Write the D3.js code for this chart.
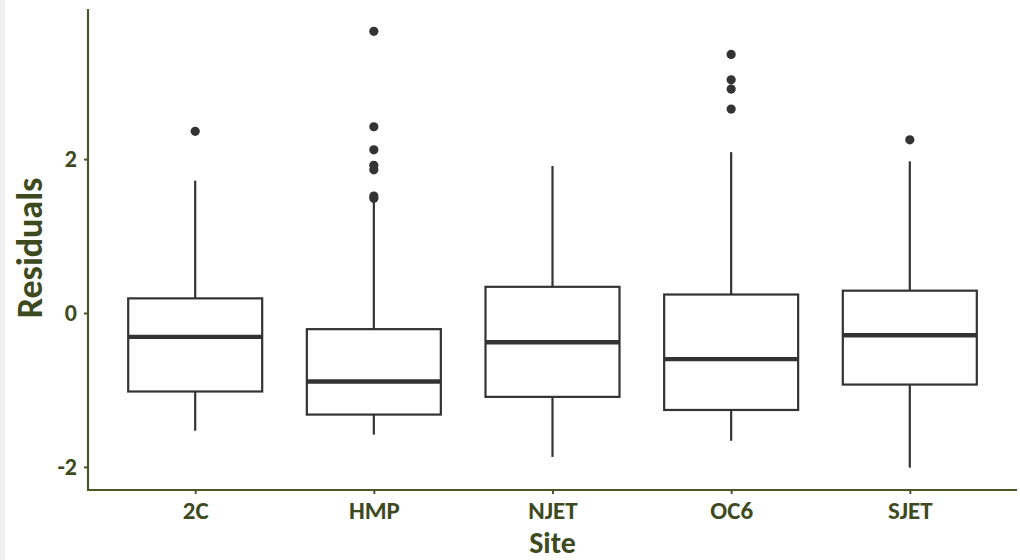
<!DOCTYPE html>
<html><head><meta charset="utf-8">
<script src="https://cdn.jsdelivr.net/npm/d3@7"></script>
<style>
body{margin:0;background:#fff;}
svg{display:block;}
text{font-family:"Carlito","Lato",sans-serif;font-weight:bold;}
</style></head><body>
<svg id="chart" width="1020" height="560"></svg>
<script>
const sites = ["2C","HMP","NJET","OC6","SJET"];
const whiskerLow  = [-1.53,-1.58,-1.87,-1.66,-2.01];
const q1          = [-1.02,-1.32,-1.09,-1.26,-0.93];
const medians     = [-0.31,-0.89,-0.38,-0.60,-0.29];
const q3          = [ 0.19,-0.21, 0.34, 0.24, 0.29];
const whiskerHigh = [ 1.72, 1.45, 1.91, 2.09, 1.97];
const outliers = [
  [2.36],
  [3.66,2.42,2.12,1.92,1.86,1.52,1.49],
  [],
  [3.36,3.03,2.91,2.65],
  [2.25]
];
const yTicks = [-2,0,2];

(function(){
const svg = d3.select("#chart");
const axisCol = "#4a5729", textCol = "#3e4a1e", boxCol = "#333333";
svg.append("rect").attr("width",1020).attr("height",560).attr("fill","#fff");
svg.append("rect").attr("x",0).attr("y",0).attr("width",5).attr("height",560).attr("fill","#f0f0f0");

const pl = 88, pr = 1017, pt = 9, pb = 490;
const y = d3.scaleLinear().domain([-2.30,3.95]).range([pb,pt]);
// ggplot-like discrete axis: expand 0.6 on each side of positions 1..n
const step = (pr-pl)/(sites.length-1+1.2);
const xs = d3.scalePoint().domain(sites).range([pl+0.6*step, pr-0.6*step]);
const cx = s => xs(s);
const bw = 0.75*step;

const data = sites.map((s,i)=>({s, lo:whiskerLow[i], q1:q1[i], med:medians[i], q3:q3[i], hi:whiskerHigh[i], out:outliers[i]}));

const g = svg.append("g");
const b = g.selectAll("g.box").data(data).join("g").attr("class","box");
b.append("line").attr("x1",d=>cx(d.s)).attr("x2",d=>cx(d.s)).attr("y1",d=>y(d.hi)).attr("y2",d=>y(d.q3)).attr("stroke",boxCol).attr("stroke-width",2.2);
b.append("line").attr("x1",d=>cx(d.s)).attr("x2",d=>cx(d.s)).attr("y1",d=>y(d.q1)).attr("y2",d=>y(d.lo)).attr("stroke",boxCol).attr("stroke-width",2.2);
b.append("rect").attr("x",d=>cx(d.s)-bw/2).attr("width",bw).attr("y",d=>y(d.q3)).attr("height",d=>y(d.q1)-y(d.q3))
  .attr("fill","#fff").attr("stroke",boxCol).attr("stroke-width",2.2);
b.append("line").attr("x1",d=>cx(d.s)-bw/2).attr("x2",d=>cx(d.s)+bw/2).attr("y1",d=>y(d.med)).attr("y2",d=>y(d.med)).attr("stroke",boxCol).attr("stroke-width",4.4);
b.selectAll("circle").data(d=>d.out.map(v=>({s:d.s,v}))).join("circle")
  .attr("cx",d=>cx(d.s)).attr("cy",d=>y(d.v)).attr("r",4.6).attr("fill",boxCol);

// axes
const yAx = svg.append("g").attr("transform",`translate(${pl},0)`)
  .call(d3.axisLeft(y).tickValues(yTicks).tickSize(4).tickPadding(7).tickFormat(d=>d<0?"-"+Math.abs(d):String(d)));
yAx.select(".domain").attr("stroke",axisCol).attr("stroke-width",2.2).attr("d",`M0,${pt}V${pb}`);
yAx.selectAll(".tick line").attr("stroke",axisCol).attr("stroke-width",2);
yAx.selectAll(".tick text").attr("fill",textCol).style("font-size","24px");

const xAx = svg.append("g").attr("transform",`translate(0,${pb})`)
  .call(d3.axisBottom(xs).tickSize(4).tickPadding(11));
xAx.select(".domain").attr("stroke",axisCol).attr("stroke-width",2.2).attr("d",`M${pl-1},0H${pr}`);
xAx.selectAll(".tick line").attr("stroke",axisCol).attr("stroke-width",2);
xAx.selectAll(".tick text").attr("fill",textCol).style("font-size","25px").attr("dy",null).attr("y",29);

svg.append("text").attr("x",(pl+pr)/2).attr("y",553).attr("text-anchor","middle")
  .attr("fill",textCol).style("font-size","30px").text("Site");
svg.append("text").attr("transform",`translate(42,248) rotate(-90)`).attr("text-anchor","middle")
  .attr("fill",textCol).style("font-size","36px").text("Residuals");
})();
</script></body></html>
